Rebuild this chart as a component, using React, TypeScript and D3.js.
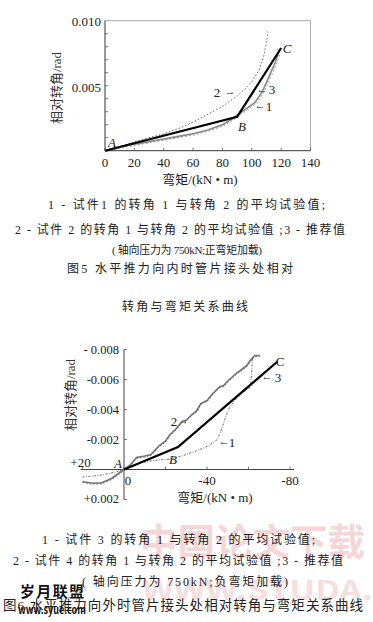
import React from "react";
import * as d3 from "d3";

// figure 5: positive bending moment (kN·m) vs relative rotation (rad)
const top1: [number, number][] = [
  [0, 0], [10, 0.0003], [20, 0.0005], [30, 0.0007], [40, 0.0009], [50, 0.0011],
  [60, 0.0013], [70, 0.0016], [80, 0.002], [86, 0.0024], [92, 0.0029], [97, 0.0033],
  [102, 0.0037], [107, 0.0045], [111, 0.0055], [116, 0.0068], [118.4, 0.0076],
];
const top2: [number, number][] = [
  [0, 0], [10, 0.0003], [20, 0.0007], [30, 0.001], [40, 0.0013], [50, 0.0017],
  [60, 0.0022], [70, 0.0028], [80, 0.0034], [90, 0.0042], [95, 0.0047], [100, 0.0053],
  [105, 0.0062], [108, 0.0072], [110, 0.0083], [111, 0.0091], [109.5, 0.0093],
];
const top3: [number, number][] = [[0, 0], [90, 0.0026], [120, 0.0079]];
const topXTicks = [0, 20, 40, 60, 80, 100, 120, 140];
const topYLabels = [0.005, 0.01];
const topYMinor = [0.001, 0.002, 0.003, 0.004, 0.005, 0.006, 0.007, 0.008, 0.009];

// figure 6: negative bending moment
const bot1: [number, number][] = [
  [20, 0.0005], [12, 0.0004], [5, 0.0002], [0, 0], [-6, -0.0004], [-14, -0.0006],
  [-22, -0.0007], [-28, -0.0009], [-36, -0.0013], [-41, -0.0016], [-45, -0.002],
  [-47, -0.0027], [-49, -0.0035], [-51, -0.0042], [-54, -0.0047], [-57, -0.0051],
  [-61, -0.0055], [-61.5, -0.0065], [-62, -0.0075],
];
const bot2: [number, number][] = [
  [20, 0.0008], [16, 0.0009], [11, 0.0009], [6, 0.0006], [3, 0.0003], [0, 0],
  [-3, -0.0003], [-6, -0.0008], [-10, -0.0009], [-13, -0.001], [-17, -0.0016],
  [-20, -0.0019], [-22, -0.0023], [-25, -0.0027], [-28, -0.0032], [-30, -0.0033],
  [-33, -0.0037], [-35, -0.0039], [-37, -0.0044], [-40, -0.0046], [-43, -0.0051],
  [-46, -0.0055], [-48, -0.0056], [-50, -0.0059], [-54, -0.0064], [-57, -0.0067],
  [-59, -0.0069], [-61, -0.0073], [-63, -0.0076], [-65.5, -0.0076],
];
const bot3: [number, number][] = [[0, 0], [-26, -0.0015], [-74, -0.0072]];
const botXTicks = [20, 0, -20, -40, -60, -80];
const botXLabels = ["+20", "0", "", "-40", "", "-80"];
const botYTicks = [-0.008, -0.006, -0.004, -0.002, 0.002];
const botYLabels = ["- 0.008", "-0.006", "-0.004", "-0.002", "+0.002"];

const cap5 = [
  "1 -  试件1 的转角 1 与转角 2 的平均试验值;",
  "2 - 试件 2 的转角 1 与转角 2 的平均试验值 ;3 -  推荐值",
  "( 轴向压力为 750kN;正弯矩加载)",
  "图5    水平推力向内时管片接头处相对",
  "转角与弯矩关系曲线",
];
const cap6 = [
  "1 -  试件 3 的转角 1 与转角 2 的平均试验值;",
  "2 - 试件 4 的转角 1 与转角 2 的平均试验值 ;3 -  推荐值",
  "( 轴向压力为 750kN;负弯矩加载)",
  "图6  水平推力向外时管片接头处相对转角与弯矩关系曲线",
];

const FONT = "'Liberation Serif', 'Noto Sans CJK SC', serif";

export default function App() {
  const xT = d3.scaleLinear().domain([0, 140]).range([105, 310.5]);
  const yT = d3.scaleLinear().domain([0, 0.01]).range([150.7, 20.7]);
  const xB = d3.scaleLinear().domain([20, -80]).range([82.5, 290]);
  const yB = d3.scaleLinear().domain([0.002, -0.008]).range([499.5, 349.5]);

  const lineT = d3.line<[number, number]>().x((d) => xT(d[0])).y((d) => yT(d[1]));
  const lineB = d3.line<[number, number]>().x((d) => xB(d[0])).y((d) => yB(d[1]));

  // caption rows: y centre, and either a fitted span or a centred natural width
  const capPos5 = [
    { y: 205, x0: 48, x1: 325, fs: 12 },
    { y: 230, x0: 15, x1: 345, fs: 12 },
    { y: 250, x0: 112, x1: 262, fs: 11 },
    { y: 269, x0: 67, x1: 293, fs: 12 },
    { y: 307, x0: 122, x1: 248, fs: 12 },
  ];
  const capPos6 = [
    { y: 540, x0: 42, x1: 315, fs: 12 },
    { y: 561, x0: 13, x1: 343, fs: 12 },
    { y: 582, x0: 82, x1: 288, fs: 12 },
    { y: 605, x0: 3, x1: 363, fs: 13.5 },
  ];

  return (
    <svg width={373} height={622} style={{ position: "absolute", left: 0, top: 0, background: "#fff" }} fontFamily={FONT}>
      {/* watermark */}
      <g fontFamily="'Noto Sans CJK SC', sans-serif" fontWeight="bold" opacity={0.5}>
        <text x={140} y={556} fontSize={37} fill="#eeb0b0" textLength={225} lengthAdjust="spacingAndGlyphs">中国论文下载</text>
        <text x={142} y={600} fontSize={27} fill="#f1c0c0" textLength={231} lengthAdjust="spacingAndGlyphs">WWW.STUDA.</text>
      </g>

      {/* ---------- top chart ---------- */}
      <line x1={xT(0)} x2={xT(140)} y1={yT(0.01)} y2={yT(0.01)} stroke="#aaa" strokeWidth={1} />
      <line x1={xT(140)} x2={xT(140)} y1={yT(0.01)} y2={yT(0)} stroke="#aaa" strokeWidth={1} />
      <line x1={xT(0)} x2={xT(0)} y1={yT(0.01)} y2={yT(0)} stroke="#333" strokeWidth={1} />
      <line x1={xT(0)} x2={xT(140)} y1={yT(0)} y2={yT(0)} stroke="#333" strokeWidth={1} />
      {topYMinor.map((v) => (
        <line key={v} x1={xT(0)} x2={xT(0) + 3} y1={yT(v)} y2={yT(v)} stroke="#555" strokeWidth={0.8} />
      ))}
      {topXTicks.map((v) => (
        <g key={v}>
          <line x1={xT(v)} x2={xT(v)} y1={yT(0)} y2={yT(0) - 3} stroke="#555" strokeWidth={0.8} />
          <text x={xT(v)} y={162} dy="0.35em" textAnchor="middle" fontSize={13} fill="#222">{v}</text>
        </g>
      ))}
      {topYLabels.map((v) => (
        <text key={v} x={101} y={yT(v) + (v === 0.005 ? 2 : 0.5)} dy="0.35em" textAnchor="end" fontSize={13} fill="#222">
          {d3.format(".3f")(v)}
        </text>
      ))}
      <text transform="translate(56,88) rotate(-90)" textAnchor="middle" dy="0.35em" fontSize={13} fill="#333">相对转角/rad</text>
      <text x={200} y={179} dy="0.35em" textAnchor="middle" fontSize={13} fill="#222">弯矩/(kN • m)</text>

      <path d={lineT(top2) ?? ""} fill="none" stroke="#666" strokeWidth={1} strokeDasharray="1.5,2" />
      <path d={lineT(top1) ?? ""} fill="none" stroke="#888" strokeWidth={1.6} />
      <path d={lineT(top1) ?? ""} fill="none" stroke="#555" strokeWidth={0.6} strokeDasharray="2,2" transform="translate(1.5,1)" />
      <path d={lineT(top3) ?? ""} fill="none" stroke="#000" strokeWidth={2.2} />

      <g fontStyle="italic" fontSize={13} fill="#222">
        <text x={112} y={142} dy="0.35em" textAnchor="middle">A</text>
        <text x={242} y={126} dy="0.35em" textAnchor="middle">B</text>
        <text x={287} y={48} dy="0.35em" textAnchor="middle">C</text>
      </g>
      <g fontSize={13} fill="#222">
        <text x={217} y={92} dy="0.35em" textAnchor="middle">2</text>
        <text x={278} y={47} dy="0.35em" textAnchor="middle" fontSize={10}>→</text>
        <text x={230} y={91} dy="0.35em" textAnchor="middle" fontSize={11}>→</text>
        <text x={262} y={89} dy="0.35em" textAnchor="middle" fontSize={11}>←</text>
        <text x={272} y={89} dy="0.35em" textAnchor="middle">3</text>
        <text x={260} y={105} dy="0.35em" textAnchor="middle" fontSize={11}>←</text>
        <text x={269} y={106} dy="0.35em" textAnchor="middle">1</text>
      </g>

      {cap5.map((t, i) => (
        <text key={t} x={capPos5[i].x0} y={capPos5[i].y} dy="0.35em" fontSize={capPos5[i].fs} fill="#222"
          textLength={capPos5[i].x1 - capPos5[i].x0} lengthAdjust="spacing">{t}</text>
      ))}

      {/* ---------- bottom chart ---------- */}
      <line x1={xB(0)} x2={xB(0)} y1={yB(-0.008)} y2={yB(0.002)} stroke="#444" strokeWidth={1} />
      <line x1={xB(20) - 2} x2={xB(-80) + 4} y1={yB(0)} y2={yB(0)} stroke="#444" strokeWidth={1} />
      {botYTicks.map((v, i) => (
        <g key={v}>
          <line x1={xB(0)} x2={xB(0) + 3} y1={yB(v)} y2={yB(v)} stroke="#555" strokeWidth={0.8} />
          <text x={119} y={yB(v) + (v > 0 ? -1 : 0)} dy="0.35em" textAnchor="end" fontSize={12.5} fill="#222">{botYLabels[i]}</text>
        </g>
      ))}
      {botXTicks.map((v, i) => (
        <g key={v}>
          <line x1={xB(v)} x2={xB(v)} y1={yB(0)} y2={yB(0) - 3} stroke="#555" strokeWidth={0.8} />
          {botXLabels[i] && (
            <text x={v === 0 ? xB(v) + 4 : v > 0 ? xB(v) - 2 : xB(v)} y={v > 0 ? 462 : 480} dy="0.35em"
              textAnchor="middle" fontSize={13} fill="#222">{botXLabels[i]}</text>
          )}
        </g>
      ))}
      <text transform="translate(70,395) rotate(-90)" textAnchor="middle" dy="0.35em" fontSize={13} fill="#333">相对转角/rad</text>
      <text x={215} y={497} dy="0.35em" textAnchor="middle" fontSize={13} fill="#222">弯矩/(kN • m)</text>

      <path d={lineB(bot1) ?? ""} fill="none" stroke="#666" strokeWidth={1} strokeDasharray="2,1.5,0.8,1.5" />
      <path d={lineB(bot2) ?? ""} fill="none" stroke="#777" strokeWidth={1.6} />
      <path d={lineB(bot2) ?? ""} fill="none" stroke="#333" strokeWidth={0.7} strokeDasharray="1.5,2" transform="translate(0,1)" />
      <path d={lineB(bot3) ?? ""} fill="none" stroke="#000" strokeWidth={2.2} />

      <g fontStyle="italic" fontSize={13} fill="#222">
        <text x={118} y={463} dy="0.35em" textAnchor="middle">A</text>
        <text x={173} y={459} dy="0.35em" textAnchor="middle">B</text>
        <text x={280} y={361} dy="0.35em" textAnchor="middle" fontStyle="normal">C</text>
      </g>
      <g fontSize={13} fill="#222">
        <text x={174} y={421} dy="0.35em" textAnchor="middle">2</text>
        <text x={183} y={420} dy="0.35em" textAnchor="middle" fontSize={10}>→</text>
        <text x={224} y={441} dy="0.35em" textAnchor="middle" fontSize={11}>←</text>
        <text x={232} y={442} dy="0.35em" textAnchor="middle">1</text>
        <text x={267} y={376} dy="0.35em" textAnchor="middle" fontSize={11}>←</text>
        <text x={278} y={377} dy="0.35em" textAnchor="middle">3</text>
      </g>

      {cap6.map((t, i) => (
        <text key={t} x={capPos6[i].x0} y={capPos6[i].y} dy="0.35em" fontSize={capPos6[i].fs} fill="#222"
          textLength={capPos6[i].x1 - capPos6[i].x0} lengthAdjust="spacing">{t}</text>
      ))}

      {/* site stamp */}
      <g fontFamily="'Noto Sans CJK SC', sans-serif" fontWeight="bold" fill="#111">
        <text x={20} y={592} dy="0.35em" fontSize={15} textLength={64} lengthAdjust="spacing">岁月联盟</text>
        <text x={18} y={610} dy="0.35em" fontSize={11} textLength={68} lengthAdjust="spacingAndGlyphs">www.syue.com</text>
      </g>
    </svg>
  );
}
